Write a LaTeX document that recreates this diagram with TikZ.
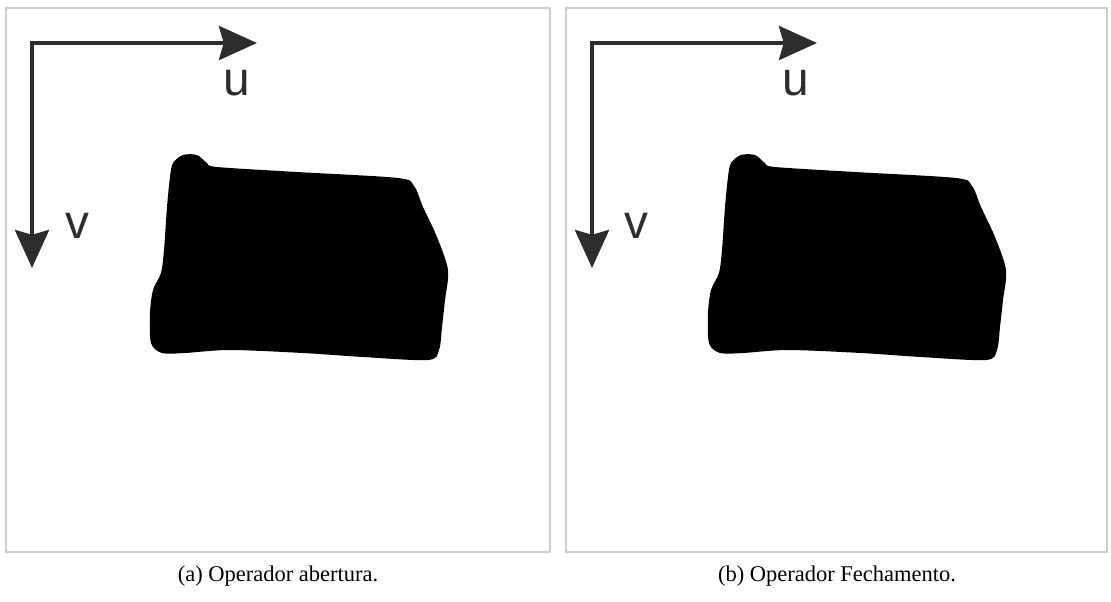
\documentclass[tikz,border=0pt]{standalone}
\usepackage{fontspec}
\setmainfont{Liberation Serif}
\newfontfamily\axisfont{Liberation Sans}
\usetikzlibrary{arrows.meta}
\definecolor{axiscolor}{RGB}{45,45,45}
\definecolor{framecolor}{RGB}{205,205,205}
\tikzset{
    panel/.style={draw=framecolor, line width=0.8pt},
    axisarrow/.style={draw=axiscolor, line width=1mm,
        {Stealth[length=9.5mm, width=8.5mm, inset=1.2mm]}-{Stealth[length=9.5mm, width=8.5mm, inset=1.2mm]}},
    axislabel/.style={text=axiscolor, inner sep=0pt, font=\axisfont\fontsize{34}{34}\selectfont},
    caption/.style={inner sep=0pt, font=\fontsize{16}{19}\selectfont},
    blob/.pic={
        \fill[black] plot[smooth cycle, tension=0.5] coordinates {
            (173,163) (183,155) (197,155) (207,163) (217,167) (297,172)
            (398,178) (414,186) (423,207) (437,237) (448,270)
            (445,300) (442,327) (439,350) (428,360) (363,357) (303,353)
            (230,350) (185,353) (162,353) (151,343) (150,313)
            (153,290) (161,273) (164,250) (167,207) (170,177)};
    }
}

\begin{document}
\begin{tikzpicture}[x=0.25mm, y=-0.25mm]
    \useasboundingbox (0,0) rectangle (1111,601);

    % Panel (a): abertura
    \draw[panel] (6,8) rectangle (550,552);
    \pic at (0,0) {blob};
    \coordinate (oa) at (32,43);
    \coordinate (ua) at (257,43);
    \coordinate (va) at (32,268);
    \draw[axisarrow] (ua) -- (oa) -- (va);
    \node[axislabel] (labua) at (237,83) {u};
    \node[axislabel] (labva) at (77,226) {v};
    \node[caption] (capa) at (278,576) {(a) Operador abertura.};

    % Panel (b): fechamento
    \draw[panel] (566,8) rectangle (1107,552);
    \pic at (558,0) {blob};
    \coordinate (ob) at (592,43);
    \coordinate (ub) at (817,43);
    \coordinate (vb) at (592,268);
    \draw[axisarrow] (ub) -- (ob) -- (vb);
    \node[axislabel] (labub) at (796,83) {u};
    \node[axislabel] (labvb) at (636,226) {v};
    \node[caption] (capb) at (837,576) {(b) Operador Fechamento.};

\end{tikzpicture}
\end{document}
